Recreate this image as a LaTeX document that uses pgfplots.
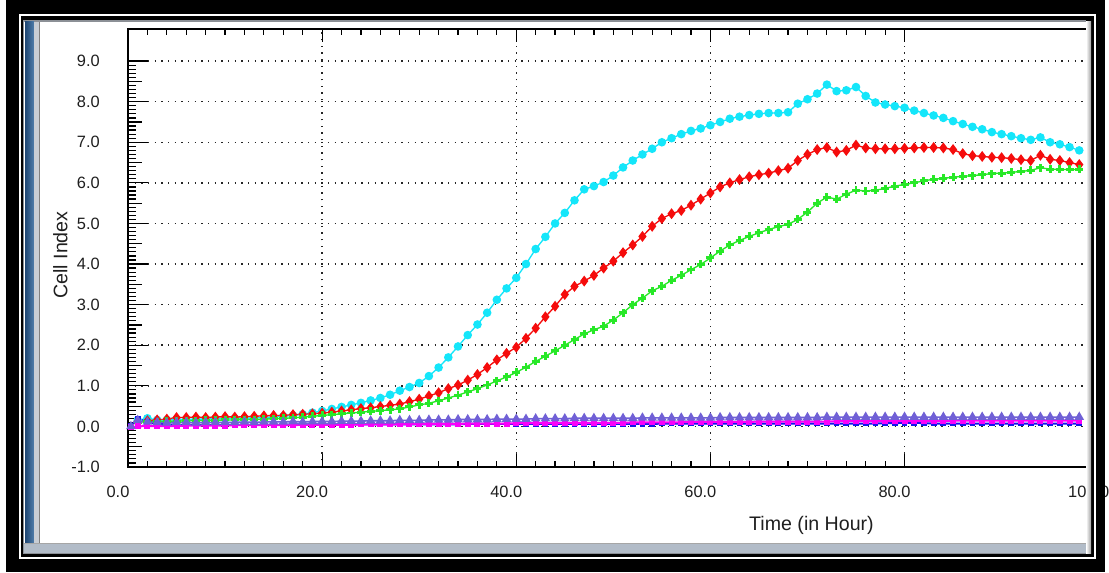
\documentclass[border=0pt]{standalone}
\usepackage{pgfplots}
\pgfplotsset{compat=1.18}
\usepackage{pgfplotstable}
\usepackage{fontspec}
\setmainfont{Liberation Sans}
\definecolor{ccyan}{RGB}{20,230,250}
\definecolor{cred}{RGB}{245,12,12}
\definecolor{cgreen}{RGB}{40,232,40}
\definecolor{cpurple}{RGB}{112,96,214}
\definecolor{cmag}{RGB}{250,0,250}
\definecolor{cblue}{RGB}{20,20,235}
\definecolor{blueA}{RGB}{30,70,115}
\definecolor{blueB}{RGB}{80,125,170}
\definecolor{winborder}{RGB}{140,144,150}
\definecolor{graystrip}{RGB}{200,205,212}
\definecolor{barcol}{RGB}{178,188,200}

\pgfplotstableread{
t c r g p m b
0.3 nan nan nan 0.00 -0.02 0.02
1 0.15 0.12 0.10 0.15 0.00 0.18
2 0.20 0.14 0.12 0.11 0.01 0.12
3 0.16 0.16 0.12 0.10 0.01 0.06
4 0.16 0.18 0.13 0.09 0.01 0.05
5 0.17 0.22 0.13 0.10 0.01 0.04
6 0.17 0.22 0.14 0.10 0.02 0.04
7 0.18 0.23 0.14 0.09 0.02 0.04
8 0.18 0.22 0.15 0.10 0.02 0.04
9 0.19 0.23 0.15 0.10 0.02 0.04
10 0.19 0.24 0.16 0.10 0.02 0.04
11 0.20 0.23 0.16 0.10 0.03 0.04
12 0.20 0.24 0.17 0.11 0.03 0.04
13 0.21 0.25 0.17 0.10 0.03 0.04
14 0.22 0.26 0.18 0.11 0.03 0.04
15 0.23 0.27 0.19 0.11 0.03 0.04
16 0.25 0.27 0.20 0.11 0.03 0.04
17 0.27 0.29 0.21 0.12 0.03 0.05
18 0.30 0.30 0.23 0.11 0.04 0.05
19 0.34 0.31 0.25 0.12 0.04 0.05
20 0.38 0.33 0.27 0.12 0.04 0.05
21 0.43 0.35 0.29 0.12 0.04 0.05
22 0.48 0.38 0.31 0.13 0.04 0.05
23 0.53 0.41 0.33 0.13 0.04 0.05
24 0.58 0.44 0.35 0.13 0.05 0.05
25 0.64 0.46 0.37 0.14 0.05 0.05
26 0.70 0.49 0.39 0.14 0.05 0.05
27 0.78 0.52 0.41 0.14 0.05 0.05
28 0.88 0.55 0.43 0.15 0.05 0.05
29 0.97 0.61 0.48 0.15 0.06 0.05
30 1.07 0.67 0.53 0.15 0.06 0.05
31 1.24 0.75 0.57 0.16 0.06 0.05
32 1.45 0.83 0.63 0.16 0.06 0.05
33 1.70 0.93 0.70 0.16 0.06 0.05
34 1.97 1.02 0.77 0.17 0.06 0.05
35 2.25 1.14 0.85 0.17 0.07 0.06
36 2.51 1.28 0.93 0.17 0.07 0.06
37 2.80 1.45 1.02 0.17 0.07 0.06
38 3.12 1.64 1.12 0.18 0.07 0.06
39 3.40 1.80 1.22 0.18 0.07 0.06
40 3.66 1.95 1.33 0.18 0.08 0.06
41 4.00 2.17 1.46 0.18 0.08 0.06
42 4.37 2.42 1.60 0.19 0.08 0.06
43 4.67 2.70 1.73 0.19 0.08 0.06
44 5.00 2.96 1.86 0.19 0.08 0.06
45 5.26 3.25 2.00 0.19 0.08 0.06
46 5.57 3.45 2.14 0.20 0.09 0.06
47 5.84 3.58 2.28 0.20 0.09 0.06
48 5.92 3.72 2.38 0.20 0.09 0.06
49 6.02 3.90 2.47 0.20 0.09 0.06
50 6.18 4.07 2.62 0.20 0.09 0.06
51 6.38 4.28 2.80 0.20 0.09 0.06
52 6.55 4.47 3.00 0.20 0.10 0.06
53 6.70 4.68 3.16 0.21 0.10 0.06
54 6.84 4.93 3.34 0.21 0.10 0.06
55 7.00 5.12 3.45 0.21 0.10 0.07
56 7.10 5.24 3.60 0.21 0.10 0.07
57 7.20 5.32 3.72 0.21 0.10 0.07
58 7.28 5.45 3.86 0.21 0.11 0.07
59 7.34 5.60 3.99 0.21 0.11 0.07
60 7.42 5.75 4.15 0.21 0.11 0.07
61 7.50 5.90 4.32 0.22 0.11 0.07
62 7.58 6.00 4.47 0.22 0.11 0.07
63 7.63 6.08 4.58 0.22 0.11 0.07
64 7.67 6.15 4.68 0.22 0.11 0.07
65 7.70 6.20 4.77 0.22 0.12 0.07
66 7.72 6.24 4.85 0.22 0.12 0.07
67 7.72 6.30 4.92 0.22 0.12 0.07
68 7.74 6.36 4.98 0.22 0.12 0.07
69 7.95 6.55 5.10 0.22 0.12 0.07
70 8.06 6.70 5.28 0.22 0.12 0.07
71 8.20 6.82 5.50 0.22 0.12 0.07
72 8.42 6.87 5.65 0.23 0.12 0.07
73 8.26 6.76 5.60 0.23 0.13 0.07
74 8.28 6.80 5.72 0.23 0.13 0.07
75 8.36 6.93 5.82 0.23 0.13 0.07
76 8.14 6.86 5.80 0.23 0.13 0.07
77 7.98 6.84 5.82 0.23 0.13 0.07
78 7.93 6.84 5.86 0.23 0.13 0.08
79 7.89 6.84 5.92 0.23 0.13 0.08
80 7.85 6.85 5.96 0.23 0.13 0.09
81 7.78 6.86 6.00 0.23 0.13 0.09
82 7.72 6.87 6.05 0.23 0.13 0.08
83 7.66 6.87 6.09 0.23 0.13 0.07
84 7.60 6.86 6.11 0.23 0.13 0.07
85 7.52 6.82 6.14 0.23 0.14 0.07
86 7.45 6.72 6.16 0.23 0.14 0.07
87 7.38 6.67 6.18 0.23 0.14 0.07
88 7.32 6.65 6.20 0.23 0.14 0.07
89 7.25 6.63 6.23 0.23 0.14 0.07
90 7.20 6.62 6.24 0.23 0.14 0.07
91 7.15 6.60 6.26 0.23 0.14 0.07
92 7.10 6.57 6.28 0.23 0.14 0.07
93 7.06 6.55 6.31 0.23 0.14 0.07
94 7.12 6.68 6.37 0.23 0.14 0.07
95 7.00 6.58 6.34 0.23 0.14 0.07
96 6.95 6.55 6.33 0.23 0.14 0.07
97 6.88 6.50 6.33 0.23 0.14 0.07
98 6.80 6.45 6.33 0.23 0.14 0.07
}\data

\begin{document}
\begin{tikzpicture}
\useasboundingbox (0,0) rectangle (831.75pt,429pt);
\begin{scope}[x=0.75pt,y=-0.75pt,yshift=429pt]
  \fill[black] (6,0) rectangle (1105,572);
  \draw[white, line width=1.5pt] (19.5,15) rectangle (1095,557.5);
  \fill[winborder] (23,20) rectangle (1092,554);
  \fill[white] (24,22) rectangle (1091,553);
  \shade[left color=blueA, right color=blueB] (25,22) rectangle (34,552);
  \fill[graystrip] (34,22) rectangle (39,552);
  \draw[gray, line width=0.6pt] (39,22) -- (39,552);
  \fill[barcol] (24,543) rectangle (1091,553);
  \draw[gray!70, line width=0.75pt] (24,543) -- (1091,543);
\end{scope}
\begin{axis}[
  at={(96pt,78.75pt)}, anchor=south west,
  scale only axis, width=719.25pt, height=328.5pt,
  xmin=0, xmax=98.8, ymin=-1, ymax=9.79,
  clip=false,
  axis line style={line width=1.1pt, black},
  xtick={0,20,40,60,80}, xticklabels={0.0,20.0,40.0,60.0,80.0},
  ytick={-1,0,1,2,3,4,5,6,7,8,9},
  yticklabels={-1.0,0.0,1.0,2.0,3.0,4.0,5.0,6.0,7.0,8.0,9.0},
  minor x tick num=9, minor y tick num=9,
  xtick pos=both, ytick pos=left, tick align=inside,
  xtick style={black, line width=0.9pt, /pgfplots/major tick length=9.5pt, /pgfplots/minor tick length=4.5pt},
  ytick style={black, line width=0.9pt, /pgfplots/major tick length=15pt, /pgfplots/minor tick length=6pt},
  extra y ticks={-0.5,0.5,1.5,2.5,3.5,4.5,5.5,6.5,7.5,8.5},
  extra y tick labels={},
  extra y tick style={grid=none, ytick style={/pgfplots/major tick length=10.5pt}},
  grid=major,
  major grid style={black!85, line width=1.1pt, dash pattern=on 1.1pt off 3.9pt},
  tick label style={font=\fontsize{12.3}{14}\selectfont, text=black!88},
  xticklabel style={anchor=north, inner sep=0pt, yshift=-14pt, xshift=-7.5pt},
  yticklabel style={anchor=east, inner sep=0pt, xshift=-21pt},
  xlabel={Time (in Hour)}, ylabel={Cell Index},
  every axis x label/.style={at={(axis description cs:0.7127,-0.1324)}, anchor=center, font=\fontsize{14.7}{17}\selectfont, text=black!88},
  every axis y label/.style={at={(axis description cs:-0.0704,0.484)}, anchor=center, rotate=90, font=\fontsize{14.7}{17}\selectfont, text=black!88},
]
\addplot[color=ccyan, line width=1pt, mark=*, mark size=2.7pt] table[x=t,y=c]{\data};
\addplot[color=cred, line width=1pt, mark=diamond*, mark size=3.3pt] table[x=t,y=r]{\data};
\addplot[color=cgreen, line width=1pt, mark=+, mark size=3pt, mark options={line width=2.2pt}] table[x=t,y=g]{\data};
\addplot[color=cblue, line width=1.5pt, mark=square*, mark size=1.4pt] table[x=t,y=b]{\data};
\addplot[color=cmag, line width=1.5pt, mark=square*, mark size=1.5pt] table[x=t,y=m]{\data};
\addplot[color=cpurple, line width=1.2pt, mark=triangle*, mark size=3pt] table[x=t,y=p]{\data};
\node[anchor=north, inner sep=0pt, yshift=-14pt, xshift=-7.5pt, font=\fontsize{12.3}{14}\selectfont, text=black!88] at (axis cs:100,-1) {100.0};
\end{axis}
\begin{scope}[x=0.75pt,y=-0.75pt,yshift=429pt]
  \fill[black] (1086,0) rectangle (1105,572);
  \draw[white, line width=1.5pt] (19.5,15) rectangle (1095,557.5);
  \shade[left color=white, right color=gray!75] (1086,22) rectangle (1091,553);
\end{scope}
\end{tikzpicture}
\end{document}
